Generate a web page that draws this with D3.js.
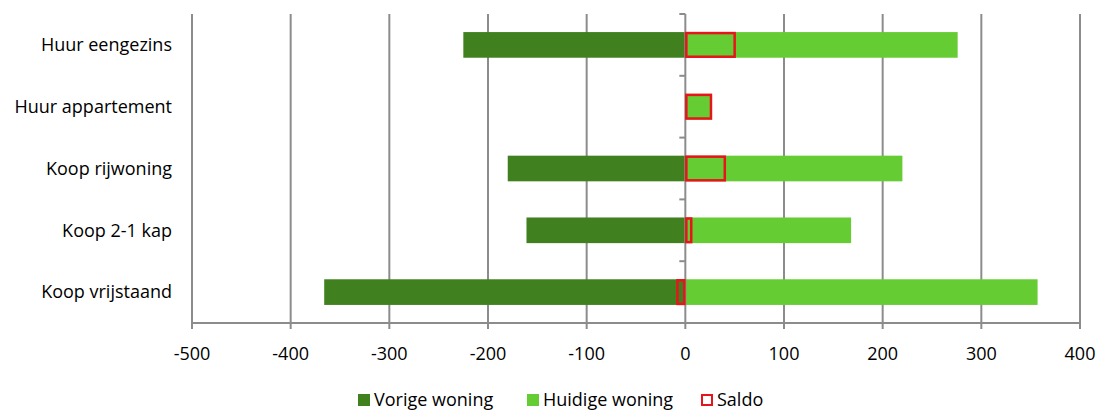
<!DOCTYPE html>
<html>
<head>
<meta charset="utf-8">
<script src="https://cdn.jsdelivr.net/npm/d3@7"></script>
<style>
  html, body { margin: 0; padding: 0; background: #fff; }
  svg { display: block; }
  text { font-family: "Open Sans", "Liberation Sans", sans-serif; fill: #000; }
</style>
</head>
<body>
<svg id="chart" width="1100" height="410"></svg>
<script>
const categories = ["Huur eengezins", "Huur appartement", "Koop rijwoning", "Koop 2-1 kap", "Koop vrijstaand"];
const vorige  = [-225, 0, -180, -161, -366];
const huidige = [276, 27, 220, 168, 357];
const saldo   = [51, 27, 41, 7, -9];
const xTicks  = [-500, -400, -300, -200, -100, 0, 100, 200, 300, 400];
const legendLabels = ["Vorige woning", "Huidige woning", "Saldo"];

const colDark = "#41801f", colLight = "#66cc33", colRed = "#e8141b", colGrid = "#8c8c8c";

const svg = d3.select("#chart");
const m = { left: 192, right: 1080, top: 14, bottom: 323 };

const x = d3.scaleLinear().domain([-500, 400]).range([m.left, m.right]);
const y = d3.scaleBand().domain(categories).range([m.top, m.bottom]).paddingInner(0.585).paddingOuter(0.2925);

// vertical gridlines (with small tick below axis)
svg.append("g").selectAll("line").data(xTicks.filter(d => d !== 0)).join("line")
  .attr("x1", d => x(d)).attr("x2", d => x(d))
  .attr("y1", m.top).attr("y2", m.bottom + 6)
  .attr("stroke", colGrid).attr("stroke-width", 2);

// bottom axis line
svg.append("line").attr("x1", m.left - 1).attr("x2", m.right + 1)
  .attr("y1", m.bottom).attr("y2", m.bottom)
  .attr("stroke", colGrid).attr("stroke-width", 2);

// x tick labels
svg.append("g").selectAll("text").data(xTicks).join("text")
  .attr("x", d => x(d)).attr("y", 360)
  .attr("text-anchor", "middle").attr("font-size", 18)
  .text(d => d);

const bh = y.bandwidth();
const rows = categories.map((c, i) => ({ c, v: vorige[i], h: huidige[i], s: saldo[i] }));

// Vorige bars
svg.append("g").selectAll("rect").data(rows).join("rect")
  .attr("x", d => x(Math.min(0, d.v))).attr("width", d => Math.abs(x(d.v) - x(0)))
  .attr("y", d => y(d.c)).attr("height", bh).attr("fill", colDark);

// Huidige bars
svg.append("g").selectAll("rect").data(rows).join("rect")
  .attr("x", d => x(Math.min(0, d.h))).attr("width", d => Math.abs(x(d.h) - x(0)))
  .attr("y", d => y(d.c)).attr("height", bh).attr("fill", colLight);

// category axis at zero
const yAxisG = svg.append("g");
yAxisG.append("line").attr("x1", x(0)).attr("x2", x(0))
  .attr("y1", m.top).attr("y2", m.bottom + 6)
  .attr("stroke", colGrid).attr("stroke-width", 2);
const bounds = d3.range(categories.length + 1).map(i => m.top + i * (m.bottom - m.top) / categories.length);
yAxisG.selectAll("line.tk").data(bounds.slice(0, -1)).join("line").attr("class", "tk")
  .attr("x1", x(0) - 6).attr("x2", x(0))
  .attr("y1", d => d).attr("y2", d => d)
  .attr("stroke", colGrid).attr("stroke-width", 2);

// Saldo outlined bars
svg.append("g").selectAll("rect").data(rows).join("rect")
  .attr("x", d => x(Math.min(0, d.s)) + 1).attr("width", d => Math.max(0, Math.abs(x(d.s) - x(0)) - 2))
  .attr("y", d => y(d.c) + 1).attr("height", bh - 2)
  .attr("fill", "none").attr("stroke", colRed).attr("stroke-width", 2.5);

// category labels
svg.append("g").selectAll("text").data(categories).join("text")
  .attr("x", 172).attr("y", d => y(d) + bh / 2)
  .attr("dy", "0.35em").attr("text-anchor", "end").attr("font-size", 18)
  .text(d => d);

// legend
const legendItems = [
  { label: legendLabels[0], x: 358, fill: colDark, stroke: "none" },
  { label: legendLabels[1], x: 527, fill: colLight, stroke: "none" },
  { label: legendLabels[2], x: 701, fill: "none", stroke: colRed }
];
const lg = svg.append("g").selectAll("g").data(legendItems).join("g")
  .attr("transform", d => `translate(${d.x},0)`);
lg.append("rect").attr("x", d => d.stroke === "none" ? 0 : 1).attr("y", d => d.stroke === "none" ? 394 : 395)
  .attr("width", d => d.stroke === "none" ? 12 : 10).attr("height", d => d.stroke === "none" ? 12 : 10)
  .attr("fill", d => d.fill).attr("stroke", d => d.stroke).attr("stroke-width", 2);
lg.append("text").attr("x", 16).attr("y", 400).attr("dy", "0.35em")
  .attr("font-size", 18).text(d => d.label);
</script>
</body>
</html>
